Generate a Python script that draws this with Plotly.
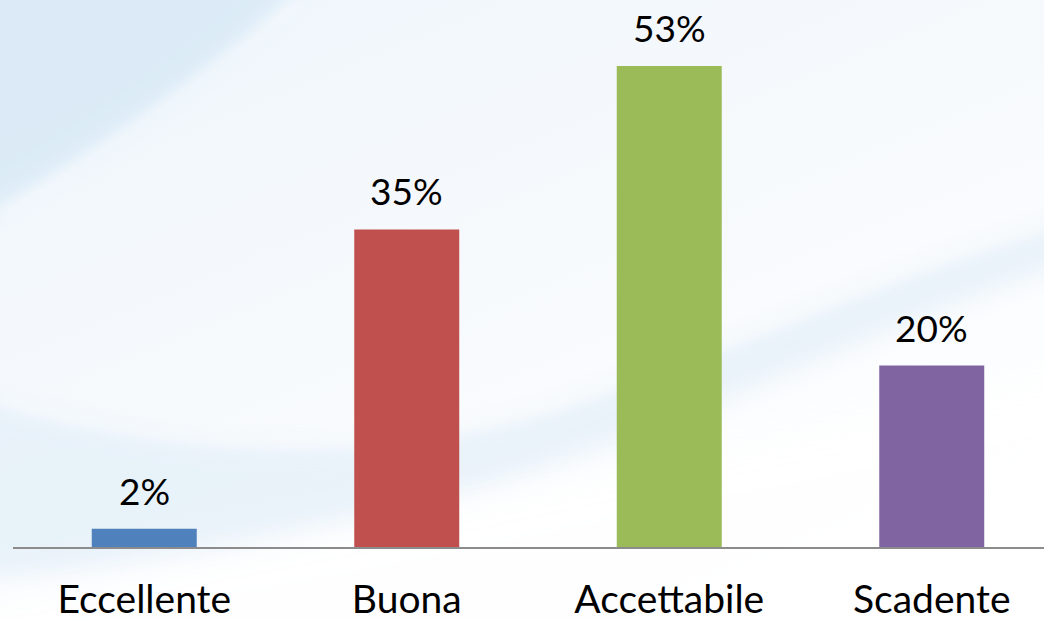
import base64
import plotly.graph_objects as go

# Survey results: share of ratings per category
categories = ["Eccellente", "Buona", "Accettabile", "Scadente"]
values = [2, 35, 53, 20]
value_labels = ["2%", "35%", "53%", "20%"]
bar_colors = ["#4F81BD", "#C0504D", "#9BBB59", "#8064A2"]

FONT = "Lato"
W, H = 1044, 620
M_L, M_R, M_T, M_B = 13, 0, 0, 73

# Soft blue "swoosh" backdrop, built as an inline SVG
svg = f"""<svg xmlns='http://www.w3.org/2000/svg' width='{W}' height='{H}' viewBox='0 0 {W} {H}'>
<defs>
  <linearGradient id='bg' x1='0' y1='0' x2='0.7' y2='1'>
    <stop offset='0' stop-color='#eef5fb'/>
    <stop offset='0.55' stop-color='#f7fafd'/>
    <stop offset='1' stop-color='#ffffff'/>
  </linearGradient>
  <filter id='b12' x='-20%' y='-20%' width='140%' height='140%'><feGaussianBlur stdDeviation='12'/></filter>
  <filter id='b6' x='-20%' y='-20%' width='140%' height='140%'><feGaussianBlur stdDeviation='6'/></filter>
  <filter id='b20' x='-20%' y='-20%' width='140%' height='140%'><feGaussianBlur stdDeviation='20'/></filter>
</defs>
<rect width='{W}' height='{H}' fill='url(#bg)'/>
<path d='M-40,-40 L320,-40 C250,50 120,140 -40,230 Z' fill='#d8e9f6' opacity='0.85' filter='url(#b12)'/>
<path d='M300,0 C220,70 110,150 0,215' stroke='#ffffff' stroke-width='6' fill='none' opacity='0.6' filter='url(#b6)'/>
<path d='M-40,390 C150,445 360,470 560,405 C760,335 900,265 1084,215 L1084,260 C900,315 700,420 500,485 C300,545 120,580 -40,580 Z'
      fill='#e1eef8' opacity='0.65' filter='url(#b12)'/>
<path d='M0,400 C150,445 360,465 560,402 C760,335 900,265 1044,225' stroke='#ffffff' stroke-width='5' fill='none' opacity='0.7' filter='url(#b6)'/>
<path d='M-40,600 C250,560 600,470 1084,380 L1084,700 L-40,700 Z' fill='#ffffff' opacity='0.95' filter='url(#b20)'/>
</svg>"""
bg_uri = "data:image/svg+xml;base64," + base64.b64encode(svg.encode()).decode()

fig = go.Figure()
fig.add_trace(go.Bar(
    x=categories,
    y=values,
    marker=dict(color=bar_colors, line=dict(width=0)),
    width=0.4,
    hoverinfo="skip",
))

# Value labels above each bar
for cat, val, lab in zip(categories, values, value_labels):
    fig.add_annotation(
        x=cat, y=val, text=lab, showarrow=False,
        yanchor="bottom", yshift=14,
        font=dict(family=FONT, size=37, color="#000000"),
    )

plot_w = W - M_L - M_R
plot_h = H - M_T - M_B
cat_px = 262.5
px_per_unit = 9.075

fig.update_layout(
    width=W, height=H,
    margin=dict(l=M_L, r=M_R, t=M_T, b=M_B, pad=0, autoexpand=False),
    paper_bgcolor="#ffffff",
    plot_bgcolor="rgba(0,0,0,0)",
    showlegend=False,
    images=[dict(
        source=bg_uri, xref="paper", yref="paper",
        x=-M_L / plot_w, y=1 + M_T / plot_h,
        sizex=W / plot_w, sizey=H / plot_h,
        sizing="stretch", layer="below", xanchor="left", yanchor="top",
    )],
    xaxis=dict(
        range=[-0.5, -0.5 + plot_w / cat_px],
        showline=True, linecolor="#8c8c8c", linewidth=1.5,
        showgrid=False, zeroline=False, ticks="",
        tickfont=dict(family=FONT, size=39, color="#000000"),
        ticklabelstandoff=17,
        automargin=False,
        fixedrange=True,
    ),
    yaxis=dict(
        range=[0, plot_h / px_per_unit],
        visible=False, showgrid=False, zeroline=False,
        automargin=False,
        fixedrange=True,
    ),
)

fig.write_html("out.html", config={"displayModeBar": False})
